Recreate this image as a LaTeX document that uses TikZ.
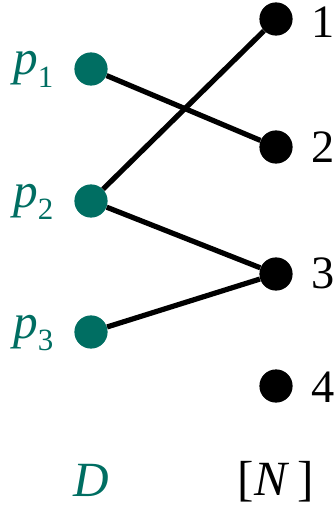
\documentclass[tikz,border=0pt]{standalone}
\usepackage{fontspec}
\setmainfont{Liberation Serif}
\usetikzlibrary{positioning}
\definecolor{tealdot}{RGB}{0,110,98}
\newcommand{\lowsub}[1]{\raisebox{-0.26em}{\fontsize{22}{22}\selectfont #1}}

\begin{document}
\begin{tikzpicture}[
 x=0.025cm,y=-0.025cm,
 dom/.style={circle,fill=tealdot,inner sep=0pt,minimum size=0.83cm},
 cod/.style={circle,fill=black,inner sep=0pt,minimum size=0.83cm},
 dlab/.style={text=tealdot,font=\fontsize{35}{38}\selectfont,inner sep=0pt},
 clab/.style={font=\fontsize{33}{36}\selectfont,inner sep=0pt},
 edge/.style={line width=3.7pt}
]
\useasboundingbox (0,0) rectangle (334,505);
% domain points
\node[dom] (p1) at (91,69) {};
\node[dom] (p2) at (91,201) {};
\node[dom] (p3) at (91,332) {};
\node[dlab,anchor=base west] (lp1) at (13,75) {\textit{p}\lowsub{1}};
\node[dlab,anchor=base west] (lp2) at (13,207) {\textit{p}\lowsub{2}};
\node[dlab,anchor=base west] (lp3) at (13,338) {\textit{p}\lowsub{3}};
% codomain points
\node[cod] (n1) at (276,19) {};
\node[cod] (n2) at (276,147) {};
\node[cod] (n3) at (276,274) {};
\node[cod] (n4) at (276,386) {};
\node[clab,anchor=base west] (l1) at (311,38) {1};
\node[clab,anchor=base west] (l2) at (311,162) {2};
\node[clab,anchor=base west] (l3) at (311,288) {3};
\node[clab,anchor=base west] (l4) at (311,402) {4};
% set names
\node[dlab,anchor=base] (dset) at (91,496) {\textit{D}};
\node[clab,anchor=base] (nset) at (276,495) {\fontsize{35}{38}\selectfont[\textit{N}\,]};
% map
\draw[edge] (p1) -- (n2);
\draw[edge] (p2) -- (n1);
\draw[edge] (p2) -- (n3);
\draw[edge] (p3) -- (n3);
\end{tikzpicture}
\end{document}
